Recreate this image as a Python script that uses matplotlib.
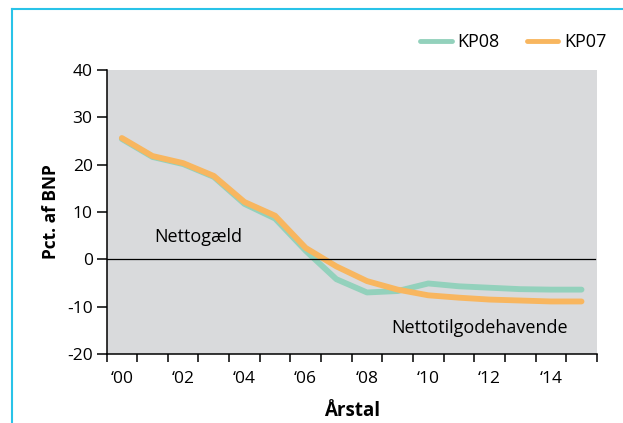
import matplotlib.pyplot as plt
import numpy as np
from matplotlib.lines import Line2D

years = list(range(2000, 2016))
kp08 = [25.4, 21.6, 20.1, 17.4, 11.7, 8.6, 1.8, -4.2, -7.0, -6.7, -5.1, -5.7, -6.0, -6.3, -6.4, -6.4]
kp07 = [25.6, 21.8, 20.3, 17.6, 12.1, 9.2, 2.4, -1.5, -4.6, -6.4, -7.6, -8.1, -8.5, -8.7, -8.9, -8.9]
tick_labels = ["\u201800", "\u201802", "\u201804", "\u201806", "\u201808", "\u201810", "\u201812", "\u201814"]

green = "#93d1bc"
orange = "#f8b65f"
plt.rcParams["font.family"] = ["Open Sans", "DejaVu Sans"]
plt.rcParams["axes.unicode_minus"] = False

figure = plt.figure(figsize=(6.23, 4.23), dpi=100)
ax = figure.add_axes([0.171, 0.163, 0.787, 0.672])
ax.set_facecolor("#d9dadc")

x = np.arange(len(years))
ax.plot(x, kp08, color=green, linewidth=4.2, solid_capstyle="round", solid_joinstyle="round")
ax.plot(x, kp07, color=orange, linewidth=4.2, solid_capstyle="round", solid_joinstyle="round")
ax.axhline(0, color="black", linewidth=0.9, xmax=0.996)

ax.set_xlim(-0.5, len(years) - 0.5)
ax.set_ylim(-20, 40)
ax.set_yticks(range(-20, 41, 10))
ax.set_xticks(np.arange(-0.5, len(years), 1.0))
ax.set_xticklabels([])
ax.set_xticks(x[::2][:len(tick_labels)], minor=True)
ax.set_xticklabels(tick_labels, minor=True)
ax.tick_params(axis="x", which="minor", length=0, pad=12, labelsize=12.5)
ax.tick_params(axis="x", which="major", length=6, width=1.1, direction="out")
ax.tick_params(axis="y", length=7, width=1.1, labelsize=12.5, pad=3)

for side in ["top", "right"]:
    ax.spines[side].set_visible(False)
for side in ["left", "bottom"]:
    ax.spines[side].set_linewidth(1.1)

ax.set_ylabel("Pct. af BNP", fontsize=12.5, fontweight="bold", labelpad=5)
ax.set_xlabel("Årstal", fontsize=13.5, fontweight="bold", labelpad=10)

ax.text(2.5, 4.7, "Nettogæld", fontsize=13, ha="center", va="center")
ax.text(11.67, -14.5, "Nettotilgodehavende", fontsize=13, ha="center", va="center")

handles = [
    Line2D([], [], color=green, linewidth=3.5, solid_capstyle="round"),
    Line2D([], [], color=orange, linewidth=3.5, solid_capstyle="round"),
]
figure.legend(handles, ["KP08", "KP07"], loc="center right", bbox_to_anchor=(1.0, 0.9),
              ncol=2, frameon=False, fontsize=13, handlelength=1.75, handletextpad=0.33,
              columnspacing=1.5)

# cyan frame on top and left edges
frame_color = "#29c3e8"
figure.add_artist(Line2D([12 / 623, 1.0], [1 - 9 / 423, 1 - 9 / 423], color=frame_color, linewidth=1.5))
figure.add_artist(Line2D([12 / 623, 12 / 623], [0.0, 1 - 9 / 423], color=frame_color, linewidth=1.5))

figure.savefig("out.png", dpi=100)
plt.close(figure)
